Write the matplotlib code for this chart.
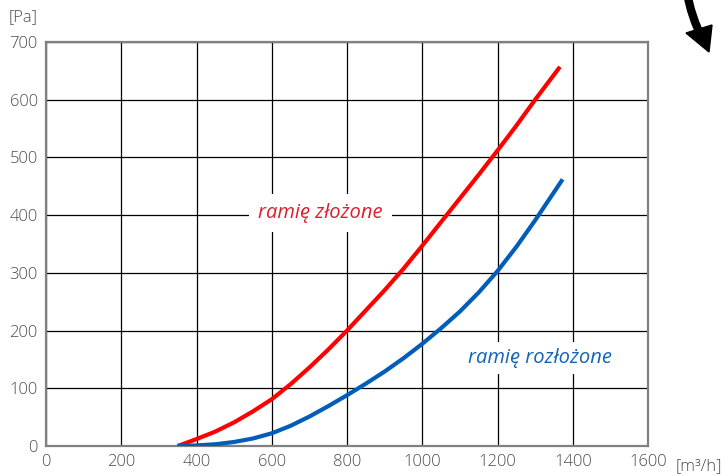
import matplotlib
matplotlib.use("Agg")
import matplotlib.pyplot as plt
from matplotlib.patches import Polygon
from matplotlib.lines import Line2D

x_red = [350, 400, 450, 500, 550, 600, 650, 700, 750, 800, 850, 900, 950,
         1000, 1050, 1100, 1150, 1200, 1250, 1300, 1366]
y_red = [0, 12, 25, 41, 60, 81, 107, 136, 167, 200, 235, 270, 307,
         347, 388, 429, 470, 512, 555, 600, 657]
x_blue = [350, 400, 450, 500, 550, 600, 650, 700, 750, 800, 850, 900, 950,
          1000, 1050, 1100, 1150, 1200, 1250, 1300, 1373]
y_blue = [0, 1, 3, 7, 13, 22, 35, 51, 69, 88, 108, 129, 152,
          177, 204, 233, 266, 303, 345, 391, 462]
xticks = [0, 200, 400, 600, 800, 1000, 1200, 1400, 1600]
yticks = [0, 100, 200, 300, 400, 500, 600, 700]

W, H = 728, 476
plt.rcParams['font.family'] = ['Open Sans', 'DejaVu Sans']
fig = plt.figure(figsize=(W/100, H/100), dpi=100)
ax = fig.add_axes([46/W, 30/H, 602/W, 404/H])
ax.set_xlim(0, 1600)
ax.set_ylim(0, 700)
ax.set_xticks(xticks)
ax.set_yticks(yticks)
ax.grid(True, color='black', linewidth=0.9)
for s in ax.spines.values():
    s.set_color('#808080')
    s.set_linewidth(1.6)
ax.tick_params(length=0, labelsize=12, labelcolor='#4d4d4d', pad=6)
for lab in ax.get_xticklabels() + ax.get_yticklabels():
    lab.set_fontweight('light')

ax.plot(x_red, y_red, color='#ff0000', linewidth=3, solid_capstyle='butt',
        solid_joinstyle='round', zorder=3)
ax.plot(x_blue, y_blue, color='#005eb8', linewidth=3, solid_capstyle='butt',
        solid_joinstyle='round', zorder=3)

ax.text(730, 403, 'ramię złożone', color='#dc1e2d', fontsize=14.5, style='italic',
        ha='center', va='center', zorder=4,
        bbox=dict(facecolor='white', edgecolor='none', boxstyle='square,pad=0.45'))
ax.text(1313, 152, 'ramię rozłożone', color='#1464b4', fontsize=14.5, style='italic',
        ha='center', va='center', zorder=4,
        bbox=dict(facecolor='white', edgecolor='none', boxstyle='square,pad=0.3'))

fig.text(9/W, 1 - 17/H, '[Pa]', fontsize=12, color='#4d4d4d', fontweight='light',
         ha='left', va='center')
fig.text(676/W, 1 - 466/H, '[m³/h]', fontsize=12, color='#4d4d4d', fontweight='light',
         ha='left', va='center')

# curved arrow in the top-right corner
def fp(px, py):
    return (px / W, 1 - py / H)
shaft_x = [688, 691, 695, 700]
shaft_y = [-2, 10, 22, 34]
fig.lines.append(Line2D([p / W for p in shaft_x], [1 - p / H for p in shaft_y],
                        transform=fig.transFigure, color='black', linewidth=6,
                        solid_capstyle='butt'))
head = Polygon([fp(686, 33), fp(712, 25), fp(709, 52)], closed=True,
               transform=fig.transFigure, facecolor='black', edgecolor='black')
fig.patches.append(head)

fig.savefig('out.png', dpi=100)
